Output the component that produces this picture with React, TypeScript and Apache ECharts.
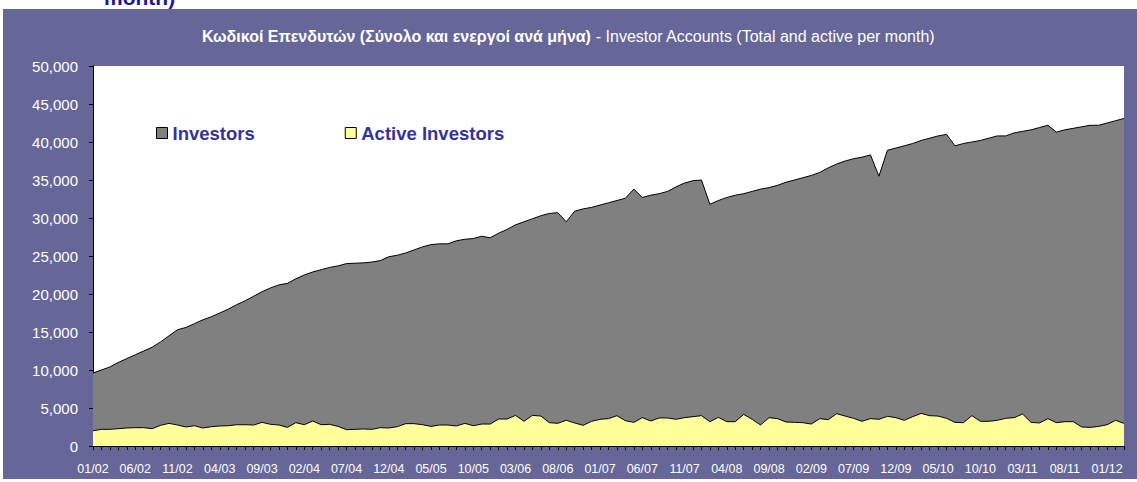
import React, { useEffect, useRef } from "react";
import * as echarts from "echarts";

const months: string[] = (() => {
  const out: string[] = [];
  for (let y = 2; y <= 12; y++) {
    for (let m = 1; m <= 12; m++) {
      if (y === 12 && m > 3) break;
      out.push(String(m).padStart(2, "0") + "/" + String(y).padStart(2, "0"));
    }
  }
  return out;
})();

const investors: number[] = [
  9600, 10000, 10400, 11000, 11500, 12000, 12500, 13000, 13700, 14500,
  15300, 15600, 16100, 16600, 17000, 17500, 18000, 18600, 19100, 19700,
  20300, 20800, 21200, 21400, 22000, 22500, 22900, 23200, 23500, 23700,
  24000, 24050, 24100, 24200, 24400, 24900, 25100, 25400, 25800, 26200,
  26500, 26600, 26600, 27000, 27200, 27300, 27600, 27400, 28000, 28500,
  29100, 29500, 29900, 30300, 30600, 30700, 29500, 30900, 31200, 31400,
  31700, 32000, 32300, 32600, 33800, 32700, 33000, 33200, 33500, 34100,
  34600, 34900, 35000, 31800, 32300, 32700, 33000, 33200, 33500, 33800,
  34000, 34300, 34700, 35000, 35300, 35600, 36000, 36600, 37100, 37500,
  37800, 38000, 38300, 35500, 38900, 39200, 39500, 39800, 40200, 40500,
  40800, 41000, 39500, 39800, 40000, 40200, 40500, 40800, 40800, 41200,
  41400, 41600, 41900, 42200, 41300, 41600, 41800, 42000, 42200, 42200,
  42500, 42800, 43100,
];

const activeInvestors: number[] = [
  2010, 2190, 2190, 2280, 2370, 2410, 2410, 2280, 2720, 2980,
  2760, 2500, 2670, 2370, 2540, 2630, 2670, 2800, 2800, 2760,
  3110, 2850, 2760, 2450, 3070, 2800, 3290, 2800, 2850, 2580,
  2150, 2190, 2240, 2190, 2410, 2370, 2540, 2940, 2940, 2800,
  2580, 2760, 2760, 2630, 2980, 2670, 2890, 2890, 3550, 3550,
  4030, 3250, 4030, 3940, 3070, 2980, 3380, 3030, 2720, 3250,
  3510, 3600, 3990, 3330, 3110, 3730, 3290, 3690, 3690, 3510,
  3730, 3860, 3990, 3200, 3770, 3200, 3200, 4160, 3510, 2760,
  3730, 3600, 3160, 3110, 3070, 2890, 3600, 3470, 4250, 3940,
  3640, 3250, 3600, 3510, 3900, 3730, 3380, 3860, 4290, 3990,
  3940, 3640, 3110, 3070, 3990, 3250, 3250, 3380, 3640, 3730,
  4210, 3110, 3030, 3600, 3070, 3200, 3200, 2500, 2450, 2580,
  2800, 3380, 2980,
];

const seriesNames = ["Investors", "Active Investors"];
const titleGreek = "Κωδικοί Επενδυτών (Σύνολο και ενεργοί ανά μήνα)";
const titleEnglish = " - Investor Accounts (Total and active per month)";
const clippedHeading = "month)";

const SANS = "'Liberation Sans', Arial, sans-serif";

export default function App() {
  const ref = useRef<HTMLDivElement>(null);
  useEffect(() => {
    if (!ref.current) return;
    const chart = echarts.init(ref.current, undefined, { renderer: "svg" });
    chart.setOption({
      animation: false,
      backgroundColor: "#ffffff",
      graphic: [
        {
          type: "rect",
          z: -10,
          shape: { x: 3, y: 9, width: 1134, height: 470 },
          style: { fill: "#666699" },
        },
        {
          type: "text",
          x: 104,
          y: -3,
          style: {
            text: clippedHeading,
            font: "bold 21px " + SANS,
            fill: "#1a1a8c",
            verticalAlign: "middle",
          },
        },
      ],
      title: {
        left: "center",
        top: 23,
        text: "{b|" + titleGreek + "}{r|" + titleEnglish + "}",
        textStyle: {
          rich: {
            b: { fontFamily: SANS, fontSize: 16, fontWeight: "bold", color: "#ffffff" },
            r: { fontFamily: SANS, fontSize: 16, fontWeight: "normal", color: "#ffffff" },
          },
        },
      },
      legend: {
        left: 151,
        top: 118.5,
        itemWidth: 11,
        itemHeight: 11,
        itemGap: 90,
        textStyle: { fontFamily: SANS, fontSize: 18.5, fontWeight: "bold", color: "#333399" },
        data: [
          {
            name: seriesNames[0],
            icon: "rect",
            itemStyle: { color: "#808080", borderColor: "#000", borderWidth: 1 },
            lineStyle: { opacity: 0 },
          },
          {
            name: seriesNames[1],
            icon: "rect",
            itemStyle: { color: "#FFFF99", borderColor: "#000", borderWidth: 1 },
            lineStyle: { opacity: 0 },
          },
        ],
      },
      grid: {
        left: 93,
        top: 66,
        width: 1031,
        height: 380,
        show: true,
        backgroundColor: "#ffffff",
        borderWidth: 0,
      },
      xAxis: {
        type: "category",
        data: months,
        boundaryGap: false,
        axisLine: { lineStyle: { color: "#000", width: 1 } },
        axisTick: { interval: 0, length: 4, lineStyle: { color: "#000" } },
        axisLabel: {
          interval: 4,
          margin: 16,
          color: "#ffffff",
          fontFamily: SANS,
          fontSize: 12.5,
        },
        splitLine: { show: false },
      },
      yAxis: {
        type: "value",
        min: 0,
        max: 50000,
        interval: 5000,
        axisLine: { show: true, lineStyle: { color: "#000", width: 1 } },
        axisTick: { show: true, length: 4, lineStyle: { color: "#000" } },
        axisLabel: {
          margin: 15,
          color: "#ffffff",
          fontFamily: SANS,
          fontSize: 15,
          formatter: (v: number) => v.toLocaleString("en-US"),
        },
        splitLine: { show: false },
      },
      series: [
        {
          name: seriesNames[0],
          type: "line",
          data: investors,
          showSymbol: false,
          symbol: "none",
          lineStyle: { color: "#000", width: 1 },
          itemStyle: { color: "#808080" },
          areaStyle: { color: "#808080", opacity: 1 },
          z: 2,
        },
        {
          name: seriesNames[1],
          type: "line",
          data: activeInvestors,
          showSymbol: false,
          symbol: "none",
          lineStyle: { color: "#000", width: 1 },
          itemStyle: { color: "#FFFF99" },
          areaStyle: { color: "#FFFF99", opacity: 1 },
          z: 3,
        },
      ],
    });
    return () => chart.dispose();
  }, []);
  return (
    <div
      ref={ref}
      style={{ position: "fixed", left: 0, top: 0, width: 1137, height: 482 }}
    />
  );
}
